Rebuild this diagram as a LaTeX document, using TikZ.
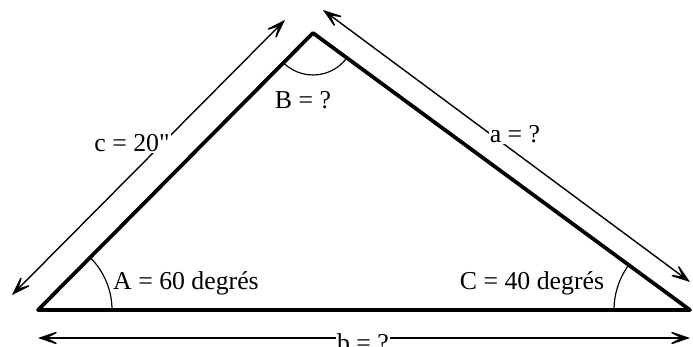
\documentclass[tikz,border=0pt]{standalone}
\usepackage{fontspec}
\setmainfont{Liberation Serif}
\newfontfamily\plainquote{Liberation Serif}
\usetikzlibrary{arrows.meta}
\begin{document}
\begin{tikzpicture}[x=0.03cm, y=-0.03cm, font=\fontsize{22}{26}\selectfont,
	line join=round, line cap=round,
	side/.style={line width=3.2pt},
	dim/.style={line width=1.2pt, {Stealth[length=8mm,width=5.5mm,inset=5.2mm]}-{Stealth[length=8mm,width=5.5mm,inset=5.2mm]}},
	lbl/.style={fill=white, inner sep=1pt}]
	\useasboundingbox (0,0) rectangle (693,347);
	% sommets
	\coordinate (A) at (38,310);
	\coordinate (B) at (313,33);
	\coordinate (C) at (690,310);
	% extremites des fleches de cotes
	\coordinate (c1) at (12,295);  \coordinate (c2) at (285,20);
	\coordinate (a1) at (323,10);  \coordinate (a2) at (690,282);
	\coordinate (b1) at (38,338);  \coordinate (b2) at (690,338);
	% cotes
	\draw[dim] (c1) -- (c2);
	\draw[dim] (a1) -- (a2);
	\draw[dim] (b1) -- (b2);
	\node[lbl] (lc) at (132,143) {c = 20{\plainquote"}};
	\node[lbl] (la) at (515,134) {a = ?};
	\node[lbl] (lb) at (363,343) {b = ?};
	% triangle
	\draw[side] (A) -- (B) -- (C) -- cycle;
	% angles
	\draw[line width=1pt] (A) ++(2.22cm,0) arc[start angle=0, end angle=45.2, radius=2.22cm];
	\draw[line width=1pt] (B) ++(225.2:1.26cm) arc[start angle=225.2, end angle=323.7, radius=1.26cm];
	\draw[line width=1pt] (C) ++(143.7:2.28cm) arc[start angle=143.7, end angle=180, radius=2.28cm];
	\node (lA) at (186,283) {A = 60 degrés};
	\node (lB) at (303,100) {B = ?};
	\node (lC) at (532,283) {C = 40 degrés};
\end{tikzpicture}
\end{document}
